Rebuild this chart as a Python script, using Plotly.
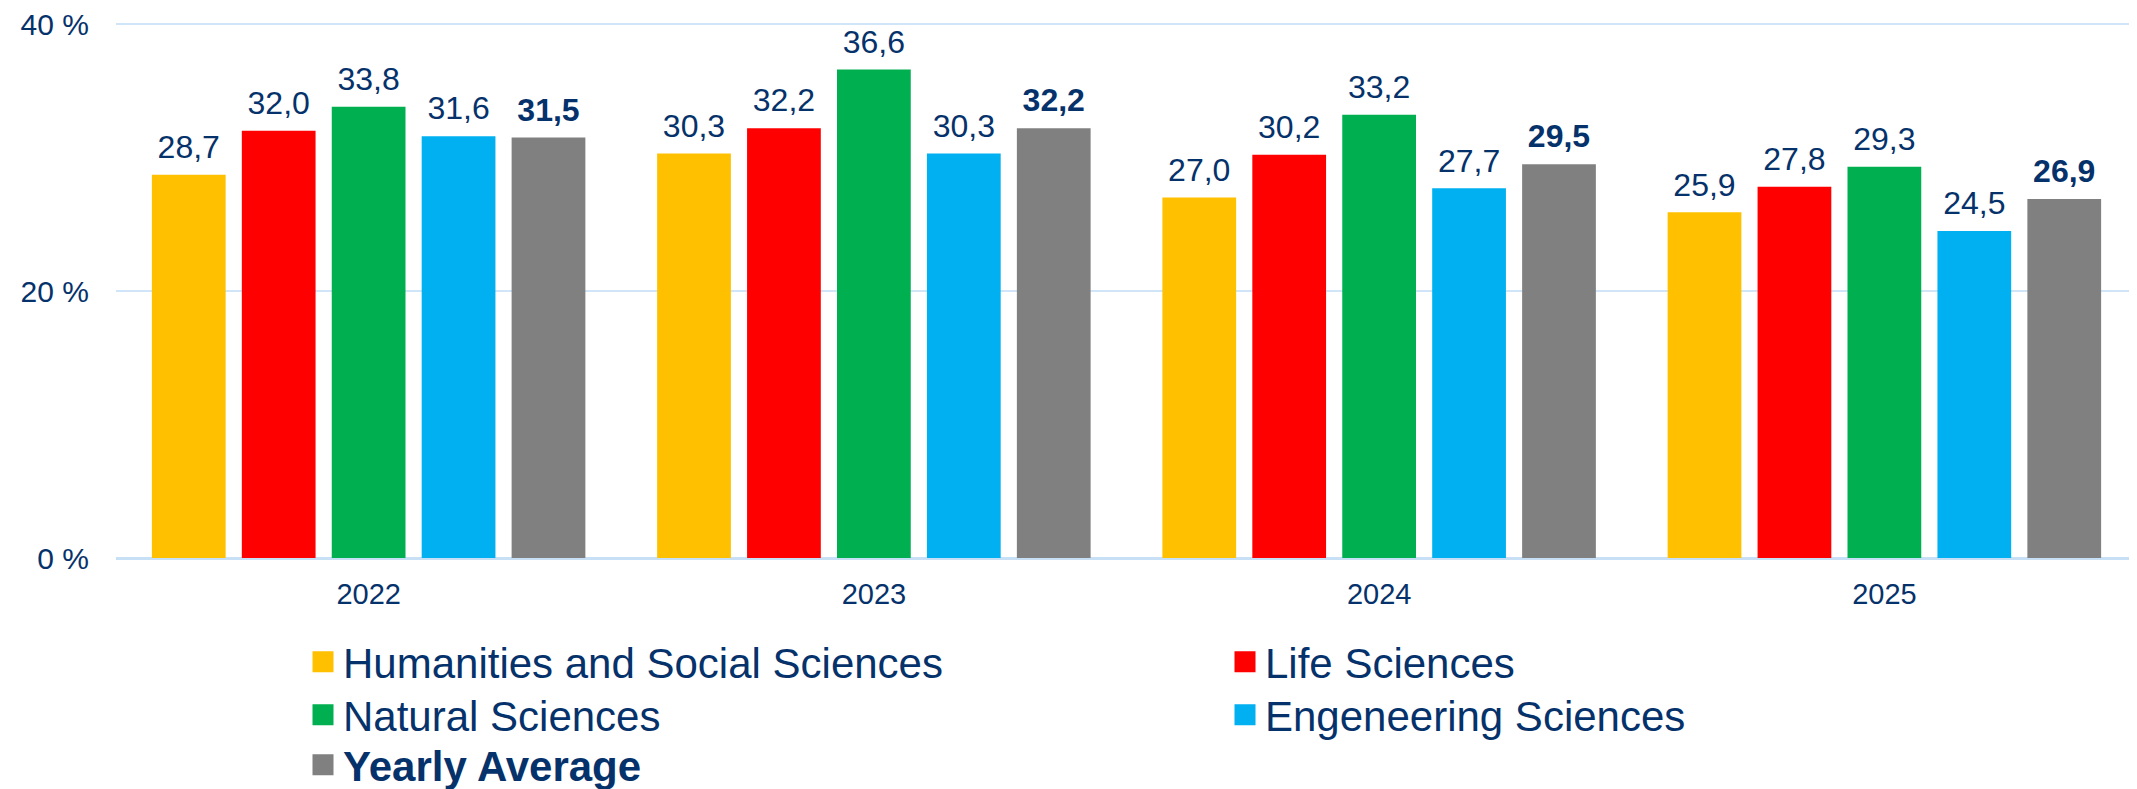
import plotly.graph_objects as go

years = ["2022", "2023", "2024", "2025"]
humanities = [28.7, 30.3, 27.0, 25.9]
life = [32.0, 32.2, 30.2, 27.8]
natural = [33.8, 36.6, 33.2, 29.3]
engineering = [31.6, 30.3, 27.7, 24.5]
average = [31.5, 32.2, 29.5, 26.9]

series_names = ["Humanities and Social Sciences", "Life Sciences", "Natural Sciences",
                "Engeneering Sciences", "<b>Yearly Average</b>"]
series_values = [humanities, life, natural, engineering, average]
colors = ["#FFC000", "#FF0000", "#00B050", "#00B0F0", "#808080"]
legend_ids = ["legend", "legend", "legend2", "legend2", "legend3"]
y_ticks = [0, 20, 40]
y_tick_text = ["0 %", "20 %", "40 %"]

TEXT = "#06326B"
FONT = "Arial, Liberation Sans, sans-serif"

# page has an 8px body margin; figure sized to fill the rest of the window
OFF = 8
W, H = 2137 - OFF, 789 - OFF

fig = go.Figure()
for i, (name, vals, col) in enumerate(zip(series_names, series_values, colors)):
    num = "<b>%{y:.1f}</b>" if i == 4 else "%{y:.1f}"
    fig.add_trace(go.Bar(
        x=years, y=vals, name=name, marker=dict(color=col, line=dict(width=0)),
        texttemplate="<span style='font-size:32px'>" + num + "</span><br>\u00a0",
        textposition="outside", cliponaxis=False, constraintext="none",
        textfont=dict(family=FONT, size=9, color=TEXT),
        showlegend=False,
    ))

# legend entries (square swatches)
for name, col, lg in zip(series_names, colors, legend_ids):
    fig.add_trace(go.Scatter(
        x=[years[0]], y=[None], mode="markers", name=name, legend=lg,
        marker=dict(symbol="square", size=16, color=col, line=dict(color=col, width=5)),
        hoverinfo="skip",
    ))

y40_px, y0_px = 24 - OFF, 558 - OFF
ymax = 40.15
unit = (y0_px - y40_px) / 40.0
plot_top = y40_px - (ymax - 40) * unit
plot_bottom = y0_px
ph = plot_bottom - plot_top

def py(Y):
    return (plot_bottom - (Y - OFF)) / ph

plot_left = 116 - OFF
leg_x = (303 - 116) / 2021
common = dict(orientation="h", x=leg_x, xanchor="left", yanchor="middle",
              bgcolor="rgba(0,0,0,0)", font=dict(family=FONT, size=42, color=TEXT),
              entrywidth=877, entrywidthmode="pixels", itemclick=False)

fig.update_layout(
    width=W, height=H,
    margin=dict(l=plot_left, r=0, t=plot_top, b=H - plot_bottom, autoexpand=False),
    paper_bgcolor="white", plot_bgcolor="white",
    barmode="group", bargap=0.11, bargroupgap=0.18,
    separators=",.",
    font=dict(family=FONT, color=TEXT),
    legend=dict(y=py(662), **common),
    legend2=dict(y=py(715), **common),
    legend3=dict(y=py(765), **common),
    xaxis=dict(type="category", showgrid=False, showline=False, zeroline=False,
               tickfont=dict(family=FONT, size=29, color=TEXT), ticks="",
               ticklabelstandoff=16),
    yaxis=dict(range=[0, ymax], tickvals=y_ticks, ticktext=y_tick_text,
               showgrid=True, gridcolor="#D0E6F8", gridwidth=2,
               zeroline=True, zerolinecolor="#C8E0F6", zerolinewidth=3,
               showline=False, ticks="", ticklabeloverflow="allow",
               tickfont=dict(family=FONT, size=30, color=TEXT), ticklabelstandoff=26),
)

fig.write_html("out.html")
